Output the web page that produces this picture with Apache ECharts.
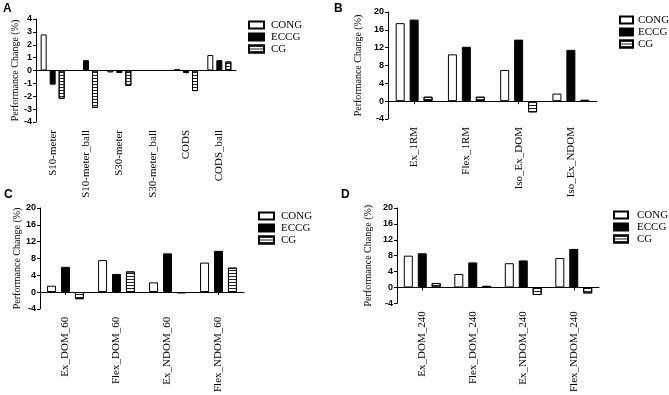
<!DOCTYPE html>
<html><head><meta charset="utf-8">
<script src="https://cdn.jsdelivr.net/npm/echarts@6/dist/echarts.min.js"></script>
<style>html,body{margin:0;padding:0;background:#fff}#c{width:669px;height:395px}</style>
</head><body><div id="c"></div>
<script>
const seriesNames = ['CONG', 'ECCG', 'CG'];

const catA = ['S10-meter', 'S10-meter_ball', 'S30-meter', 'S30-meter_ball', 'CODS', 'CODS_ball'];
const A_CONG = [2.8, 0, -0.15, 0, 0.1, 1.2];
const A_ECCG = [-1.1, 0.8, -0.2, 0, -0.2, 0.8];
const A_CG = [-2.2, -2.9, -1.2, 0, -1.6, 0.7];

const catB = ['Ex_1RM', 'Flex_1RM', 'Iso_Ex_DOM', 'Iso_Ex_NDOM'];
const B_CONG = [17.5, 10.5, 7.0, 1.7];
const B_ECCG = [18.3, 12.2, 13.8, 11.5];
const B_CG = [1.0, 1.0, -2.5, 0.3];

const catC = ['Ex_DOM_60', 'Flex_DOM_60', 'Ex_NDOM_60', 'Flex_NDOM_60'];
const C_CONG = [1.5, 7.6, 2.3, 7.0];
const C_ECCG = [6.0, 4.3, 9.2, 9.8];
const C_CG = [-1.7, 4.9, -0.3, 5.8];

const catD = ['Ex_DOM_240', 'Flex_DOM_240', 'Ex_NDOM_240', 'Flex_NDOM_240'];
const D_CONG = [8.0, 3.4, 6.1, 7.4];
const D_ECCG = [8.6, 6.3, 6.8, 9.7];
const D_CG = [1.1, 0.4, -1.9, -1.5];

const yScaleA = { min: -4, max: 4, interval: 1 };
const yScaleBCD = { min: -4, max: 20, interval: 4 };
const yName = 'Performance Change (%)';

const panels = [
  { letter: 'A', lx: 3, ly: 3, grid: { left: 36, top: 19, width: 200, height: 103 }, cats: catA, data: [A_CONG, A_ECCG, A_CG], y: yScaleA, nameGap: 16, bw: 6, gap: '50%', lg: { left: 248, top: 19, iw: 15, tp: 2 } },
  { letter: 'B', lx: 334, ly: 3, grid: { left: 388, top: 12, width: 209, height: 107 }, cats: catB, data: [B_CONG, B_ECCG, B_CG], y: yScaleBCD, nameGap: 25, bw: 9, gap: '55%', lg: { left: 619, top: 14, iw: 13, tp: 0 } },
  { letter: 'C', lx: 4, ly: 189, grid: { left: 40, top: 208, width: 204, height: 106 }, cats: catC, data: [C_CONG, C_ECCG, C_CG], y: yScaleBCD, nameGap: 15, bw: 9, gap: '55%', lg: { left: 258, top: 210, iw: 15, tp: 2 } },
  { letter: 'D', lx: 341, ly: 189, grid: { left: 397, top: 208, width: 202, height: 104 }, cats: catD, data: [D_CONG, D_ECCG, D_CG], y: yScaleBCD, nameGap: 24, bw: 9, gap: '55%', lg: { left: 613, top: 209, iw: 14, tp: 4 } }
];

const serif = 'Liberation Serif';
const sans = 'Liberation Sans';
const styles = [
  { color: '#ffffff', borderColor: '#000', borderWidth: 1 },
  { color: '#000000', borderColor: '#000', borderWidth: 1 },
  { color: '#ffffff', borderColor: '#000', borderWidth: 1,
    decal: { symbol: 'rect', symbolSize: 1, dashArrayX: [1, 0], dashArrayY: [1, 1.2], color: '#222', rotation: 0 } }
];

const option = {
  animation: false,
  backgroundColor: '#fff',
  title: [], grid: [], xAxis: [], yAxis: [], series: [], legend: []
};

panels.forEach((p, i) => {
  option.title.push({ text: p.letter, left: p.lx, top: p.ly, padding: 0,
    textStyle: { fontFamily: sans, fontWeight: 'bold', fontSize: 12, color: '#000' } });
  option.grid.push(Object.assign({ containLabel: false }, p.grid));
  option.xAxis.push({
    type: 'category', gridIndex: i, data: p.cats, position: 'bottom',
    axisLine: { onZero: true, lineStyle: { color: '#000', width: 1 } },
    axisTick: { show: true, alignWithLabel: true, length: 3, lineStyle: { color: '#000' } },
    axisLabel: { show: false }, splitLine: { show: false }
  });
  option.xAxis.push({
    type: 'category', gridIndex: i, data: p.cats, position: 'bottom',
    axisLine: { show: false, onZero: false }, axisTick: { show: false },
    axisLabel: { show: true, rotate: 90, margin: 8, interval: 0, fontFamily: serif, fontSize: 11, color: '#000' },
    splitLine: { show: false }
  });
  option.yAxis.push({
    type: 'value', gridIndex: i, min: p.y.min, max: p.y.max, interval: p.y.interval,
    name: yName, nameLocation: 'middle', nameGap: p.nameGap,
    nameTextStyle: { fontFamily: serif, fontSize: 10, color: '#000' },
    axisLine: { show: true, lineStyle: { color: '#000', width: 1 } },
    axisTick: { show: true, length: 3, lineStyle: { color: '#000' } },
    axisLabel: { fontFamily: sans, fontWeight: 'bold', fontSize: 9, color: '#000', margin: 4 },
    splitLine: { show: false }
  });
  option.legend.push({
    orient: 'vertical', left: p.lg.left, top: p.lg.top, padding: 0,
    itemWidth: p.lg.iw, itemHeight: 7, itemGap: 0, icon: 'rect', data: seriesNames,
    selectedMode: false,
    textStyle: { fontFamily: serif, fontSize: 11, color: '#000', lineHeight: 12, padding: [0, 0, 0, p.lg.tp] }
  });
  seriesNames.forEach((n, k) => {
    option.series.push({
      name: n, type: 'bar', xAxisIndex: 2 * i, yAxisIndex: i,
      data: p.data[k], barWidth: p.bw, barGap: p.gap,
      itemStyle: styles[k], silent: true, emphasis: { disabled: true }
    });
  });
});

const chart = echarts.init(document.getElementById('c'), null, { renderer: 'canvas' });
chart.setOption(option);
</script>
</body></html>
